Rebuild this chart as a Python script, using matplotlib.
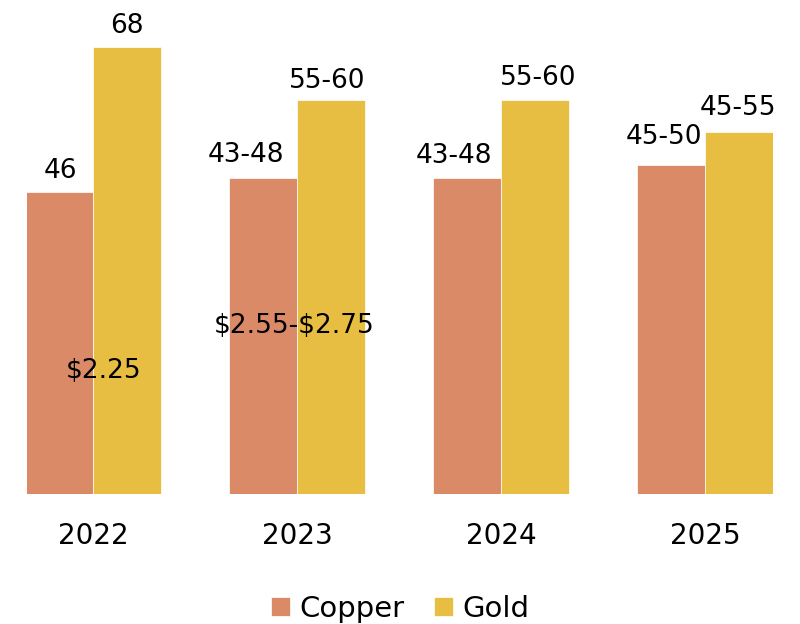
import numpy as np
import matplotlib
matplotlib.use("Agg")
import matplotlib.pyplot as plt

years = ["2022", "2023", "2024", "2025"]
copper = [46, 48, 48, 50]
gold = [68, 60, 60, 55]
copper_labels = ["46", "43-48", "43-48", "45-50"]
gold_labels = ["68", "55-60", "55-60", "45-55"]
price_notes = ["$2.25", "$2.55-$2.75"]
price_pos = [(0.05, 17.7), (0.985, 24.5)]   # (x in category units, y in data units)

COPPER = "#DB8A68"
GOLD = "#E7BD42"
FS = 19

# label nudges in pixels (dx, gap above bar)
copper_nudge = [(1, 14), (-17, 16), (-13, 15), (-7, 21)]
gold_nudge = [(0, 14), (-4, 12), (3, 15), (-1, 17)]

plt.rcParams["font.family"] = ["DejaVu Sans"]
fig = plt.figure(figsize=(8, 6.24), dpi=100)
ax = fig.add_axes([27 / 800, 130 / 624, 746 / 800, 484 / 624])

x = np.arange(len(years))
w = 1 / 3
b1 = ax.bar(x - w / 2, copper, w, color=COPPER, edgecolor="white", linewidth=0.5, label="Copper")
b2 = ax.bar(x + w / 2, gold, w, color=GOLD, edgecolor="white", linewidth=0.5, label="Gold")

for bars, labels, nudges in ((b1, copper_labels, copper_nudge), (b2, gold_labels, gold_nudge)):
    for r, lab, (dx, dy) in zip(bars, labels, nudges):
        ax.annotate(lab, (r.get_x() + r.get_width() / 2, r.get_height()),
                    xytext=(dx, dy), textcoords="offset pixels",
                    ha="center", va="baseline", fontsize=FS)

for note, (nx, ny) in zip(price_notes, price_pos):
    ax.text(nx, ny, note, ha="center", va="baseline", fontsize=FS, parse_math=False)

ax.set_xlim(-66 / 204, 3 + 680 / 2040)
ax.set_ylim(0, 484 / 6.574)
ax.set_xticks(x)
ax.set_xticklabels(years, fontsize=20)
ax.tick_params(axis="x", length=0, pad=20)
ax.set_yticks([])
for s in ax.spines.values():
    s.set_visible(False)

fig.legend(handles=[b1, b2], loc="center", bbox_to_anchor=(0.5, 15 / 624),
           ncol=2, frameon=False, fontsize=21, handlelength=0.65, handleheight=0.65,
           handletextpad=0.31, columnspacing=1.03)

fig.savefig("out.png", dpi=100)
